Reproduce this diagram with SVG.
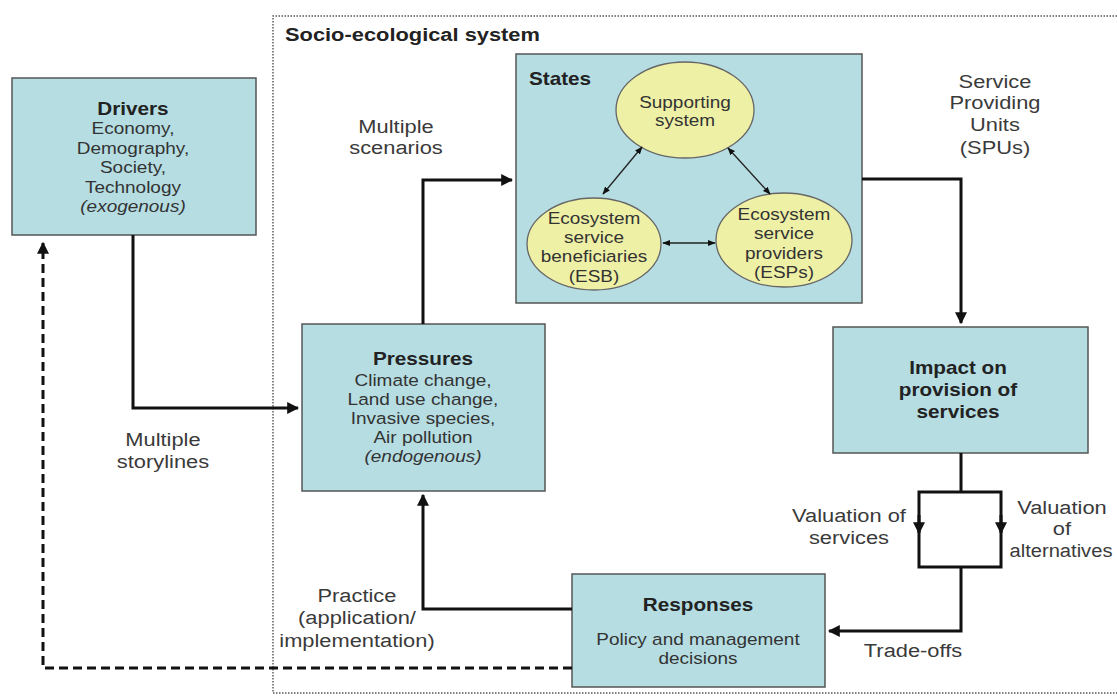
<svg xmlns="http://www.w3.org/2000/svg" width="1117" height="696" viewBox="0 0 1117 696">
<defs>
<style>
.box{fill:#b5dde2;stroke:#555;stroke-width:1.5}
.ell{fill:#eef0a6;stroke:#666;stroke-width:1.3}
text{font-family:"Liberation Sans",Arial,sans-serif;fill:#333;transform:scaleX(1.15);transform-box:fill-box;transform-origin:center}
.t{font-size:16.5px;text-anchor:middle}
.tb{font-size:18px;font-weight:bold;text-anchor:middle;fill:#222}
.lab{font-size:19px;text-anchor:middle;fill:#3a3a3a}
.left{transform-origin:left center}
.it{font-style:italic}
.con{fill:none;stroke:#111;stroke-width:3}
.thin{fill:none;stroke:#222;stroke-width:1.3}
</style>
<marker id="ah" viewBox="0 0 10 10" refX="9" refY="5" markerWidth="4" markerHeight="4" orient="auto"><path d="M0,0 L10,5 L0,10 z" fill="#111"/></marker>
<marker id="sh" viewBox="0 0 10 10" refX="9" refY="5" markerWidth="6" markerHeight="6" orient="auto-start-reverse"><path d="M0,1 L10,5 L0,9 z" fill="#111"/></marker>
</defs>
<rect width="1117" height="696" fill="#fff"/>
<g id="socio-ecological-system">
<path d="M1117,16 H273 V693 H1117" fill="none" stroke="#555" stroke-width="1.4" stroke-dasharray="1.5,1.5"/>
<text class="left" x="285" y="41" style="font-size:19px;font-weight:bold;fill:#222">Socio-ecological system</text>
</g>
<g id="drivers">
<rect class="box" x="12" y="78" width="244" height="157"/>
<text class="tb" x="133" y="115">Drivers</text>
<text class="t" x="133" y="134">Economy,</text>
<text class="t" x="133" y="154">Demography,</text>
<text class="t" x="133" y="173">Society,</text>
<text class="t" x="133" y="193">Technology</text>
<text class="t it" x="133" y="212">(exogenous)</text>
</g>
<g id="states">
<rect class="box" x="516" y="54" width="346" height="249"/>
<text class="left" x="529" y="85" style="font-size:18px;font-weight:bold;fill:#222">States</text>
</g>
<g id="supporting-system">
<ellipse class="ell" cx="685" cy="110" rx="69" ry="48"/>
<text class="t" x="685" y="108">Supporting</text>
<text class="t" x="685" y="126">system</text>
</g>
<g id="esb">
<ellipse class="ell" cx="594" cy="244" rx="67" ry="46"/>
<text class="t" x="594" y="224">Ecosystem</text>
<text class="t" x="594" y="243">service</text>
<text class="t" x="594" y="262">beneficiaries</text>
<text class="t" x="594" y="282">(ESB)</text>
</g>
<g id="esps">
<ellipse class="ell" cx="784" cy="240" rx="68" ry="47"/>
<text class="t" x="784" y="220">Ecosystem</text>
<text class="t" x="784" y="239">service</text>
<text class="t" x="784" y="259">providers</text>
<text class="t" x="784" y="278">(ESPs)</text>
</g>
<g id="pressures">
<rect class="box" x="302" y="324" width="243" height="167"/>
<text class="tb" x="423" y="365">Pressures</text>
<text class="t" x="423" y="386">Climate change,</text>
<text class="t" x="423" y="405">Land use change,</text>
<text class="t" x="423" y="424">Invasive species,</text>
<text class="t" x="423" y="443">Air pollution</text>
<text class="t it" x="423" y="462">(endogenous)</text>
</g>
<g id="impact">
<rect class="box" x="833" y="327" width="255" height="126"/>
<text class="tb" x="958" y="374">Impact on</text>
<text class="tb" x="958" y="396">provision of</text>
<text class="tb" x="958" y="418">services</text>
</g>
<g id="responses">
<rect class="box" x="572" y="574" width="253" height="113"/>
<text class="tb" x="698" y="611">Responses</text>
<text class="t" x="698" y="645">Policy and management</text>
<text class="t" x="698" y="664">decisions</text>
</g>
<g id="connectors">
<path class="con" d="M133,235 V408 H298" marker-end="url(#ah)"/>
<path class="con" d="M423,324 V180 H512" marker-end="url(#ah)"/>
<path class="con" d="M862,179 H961 V323" marker-end="url(#ah)"/>
<path class="con" d="M961,453 V492"/>
<rect x="919" y="492" width="82" height="75" class="con"/>
<path class="con" d="M919,515 V533" marker-end="url(#ah)"/>
<path class="con" d="M1001,515 V533" marker-end="url(#ah)"/>
<path class="con" d="M961,567 V631 H829" marker-end="url(#ah)"/>
<path class="con" d="M572,609 H423 V495" marker-end="url(#ah)"/>
<path class="con" d="M572,668 H43 V243" stroke-dasharray="9,5" marker-end="url(#ah)"/>
<path class="thin" d="M642,147 L603,194" marker-start="url(#sh)" marker-end="url(#sh)"/>
<path class="thin" d="M728,148 L770,194" marker-start="url(#sh)" marker-end="url(#sh)"/>
<path class="thin" d="M663,243 L715,243" marker-start="url(#sh)" marker-end="url(#sh)"/>
</g>
<g id="labels">
<text class="lab" x="396" y="133">Multiple</text>
<text class="lab" x="396" y="154">scenarios</text>
<text class="lab" x="995" y="88">Service</text>
<text class="lab" x="995" y="109">Providing</text>
<text class="lab" x="995" y="131">Units</text>
<text class="lab" x="995" y="154">(SPUs)</text>
<text class="lab" x="163" y="446">Multiple</text>
<text class="lab" x="163" y="468">storylines</text>
<text class="lab" x="357" y="602">Practice</text>
<text class="lab" x="357" y="624">(application/</text>
<text class="lab" x="357" y="647">implementation)</text>
<text class="lab" x="849" y="522">Valuation of</text>
<text class="lab" x="849" y="544">services</text>
<text class="lab" x="1062" y="514">Valuation</text>
<text class="lab" x="1062" y="535">of</text>
<text class="lab" x="1061" y="557" style="transform:scaleX(1.06)">alternatives</text>
<text class="lab" x="913" y="657">Trade-offs</text>
</g>
</svg>
